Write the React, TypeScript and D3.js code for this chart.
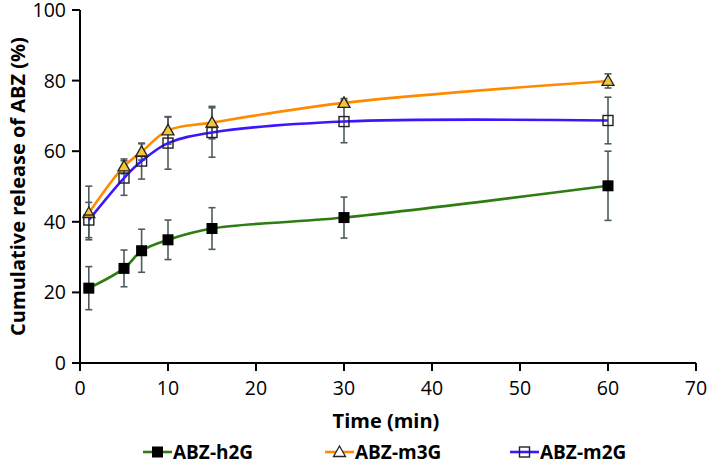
import React from "react";
import * as d3 from "d3";

const times = [1, 5, 7, 10, 15, 30, 60];
const h2G = [21.2, 26.8, 31.8, 34.9, 38.1, 41.2, 50.2];
const h2GErr = [6.1, 5.2, 6.1, 5.6, 5.9, 5.8, 9.8];
const m3G = [42.5, 55.7, 59.8, 65.9, 68.1, 73.7, 79.9];
const m3GErr = [7.6, 2.1, 2.3, 3.9, 4.6, 1.2, 2.0];
const m2G = [40.5, 52.4, 57.2, 62.3, 65.3, 68.4, 68.7];
const m2GErr = [5.0, 4.9, 5.1, 7.4, 7.0, 6.0, 6.6];
const xTicks = [0, 10, 20, 30, 40, 50, 60, 70];
const yTicks = [0, 20, 40, 60, 80, 100];
const seriesNames = ["ABZ-h2G", "ABZ-m3G", "ABZ-m2G"];

const W = 709, H = 467;
const x = d3.scaleLinear().domain([0, 70]).range([80, 696]);
const y = d3.scaleLinear().domain([0, 100]).range([363, 10]);
const font = "'Open Sans', 'DejaVu Sans', sans-serif";
const errColor = "#4d5b60";

type S = { name: string; vals: number[]; errs: number[]; color: string; marker: string };
const series: S[] = [
  { name: seriesNames[0], vals: h2G, errs: h2GErr, color: "#2f7d12", marker: "square-filled" },
  { name: seriesNames[1], vals: m3G, errs: m3GErr, color: "#ff8a00", marker: "triangle" },
  { name: seriesNames[2], vals: m2G, errs: m2GErr, color: "#3b17ff", marker: "square-open" },
];

function Marker({ kind, cx, cy, legend }: { kind: string; cx: number; cy: number; legend?: boolean }) {
  if (kind === "square-filled") {
    return <rect x={cx - 5.5} y={cy - 5.5} width={11} height={11} fill="#000" />;
  }
  if (kind === "square-open") {
    return <rect x={cx - 5} y={cy - 5} width={10} height={10} fill="none" stroke="#222" strokeWidth={1.4} />;
  }
  const s = 6;
  const pts = `${cx},${cy - s} ${cx - s},${cy + s * 0.75} ${cx + s},${cy + s * 0.75}`;
  return <polygon points={pts} fill={legend ? "#fff" : "#f2c53a"} stroke="#222" strokeWidth={1.3} />;
}

export default function App() {
  const line = d3
    .line<number>()
    .x((_, i) => x(times[i]))
    .y((d) => y(d))
    .curve(d3.curveCatmullRom.alpha(0.5));

  const legendItems = [
    { s: series[0], lx: 143, tx: 173 },
    { s: series[1], lx: 325, tx: 355 },
    { s: series[2], lx: 510, tx: 540 },
  ];
  const ly = 452;

  return (
    <svg width={W} height={H} style={{ display: "block", position: "absolute", left: 0, top: 0 }}>
      <rect width={W} height={H} fill="#fff" />
      {series.map((s) =>
        s.vals.map((v, i) => {
          const cx = x(times[i]);
          const y1 = y(v + s.errs[i]);
          const y2 = y(v - s.errs[i]);
          return (
            <g key={s.name + i} stroke={errColor} strokeWidth={1.6}>
              <line x1={cx} x2={cx} y1={y1} y2={y2} />
              <line x1={cx - 3.5} x2={cx + 3.5} y1={y1} y2={y1} />
              <line x1={cx - 3.5} x2={cx + 3.5} y1={y2} y2={y2} />
            </g>
          );
        })
      )}
      {series.map((s) => (
        <path key={s.name} d={line(s.vals) || ""} fill="none" stroke={s.color} strokeWidth={2.6} />
      ))}
      {series.map((s) =>
        s.vals.map((v, i) => <Marker key={s.name + "m" + i} kind={s.marker} cx={x(times[i])} cy={y(v)} />)
      )}
      <line x1={80} x2={80} y1={y(100)} y2={y(0)} stroke="#000" strokeWidth={2} />
      <line x1={80} x2={696} y1={y(0)} y2={y(0)} stroke="#000" strokeWidth={2} />
      {yTicks.map((t) => (
        <g key={"y" + t}>
          <line x1={72} x2={80} y1={y(t)} y2={y(t)} stroke="#000" strokeWidth={2} />
          <text x={66} y={y(t)} dy="0.36em" textAnchor="end" fontFamily={font} fontSize={19.5} fill="#000">
            {t}
          </text>
        </g>
      ))}
      {xTicks.map((t) => (
        <g key={"x" + t}>
          <line x1={x(t)} x2={x(t)} y1={y(0)} y2={y(0) + 8} stroke="#000" strokeWidth={2} />
          <text x={x(t)} y={395} textAnchor="middle" fontFamily={font} fontSize={19.5} fill="#000">
            {t}
          </text>
        </g>
      ))}
      <text x={386} y={428} textAnchor="middle" fontFamily={font} fontSize={20} fontWeight="bold" fill="#000">
        Time (min)
      </text>
      <text
        transform={`translate(25, ${y(50)}) rotate(-90)`}
        textAnchor="middle"
        fontFamily={font}
        fontSize={20}
        fontWeight="bold"
        fill="#000"
      >
        Cumulative release of ABZ (%)
      </text>
      {legendItems.map(({ s, lx, tx }) => (
        <g key={"leg" + s.name}>
          <line x1={lx} x2={lx + 29} y1={ly} y2={ly} stroke={s.color} strokeWidth={2.6} />
          <Marker kind={s.marker} cx={lx + 14.5} cy={ly} legend />
          <text x={tx} y={ly} dy="0.36em" fontFamily={font} fontSize={19} fontWeight="bold" fill="#000">
            {s.name}
          </text>
        </g>
      ))}
    </svg>
  );
}
